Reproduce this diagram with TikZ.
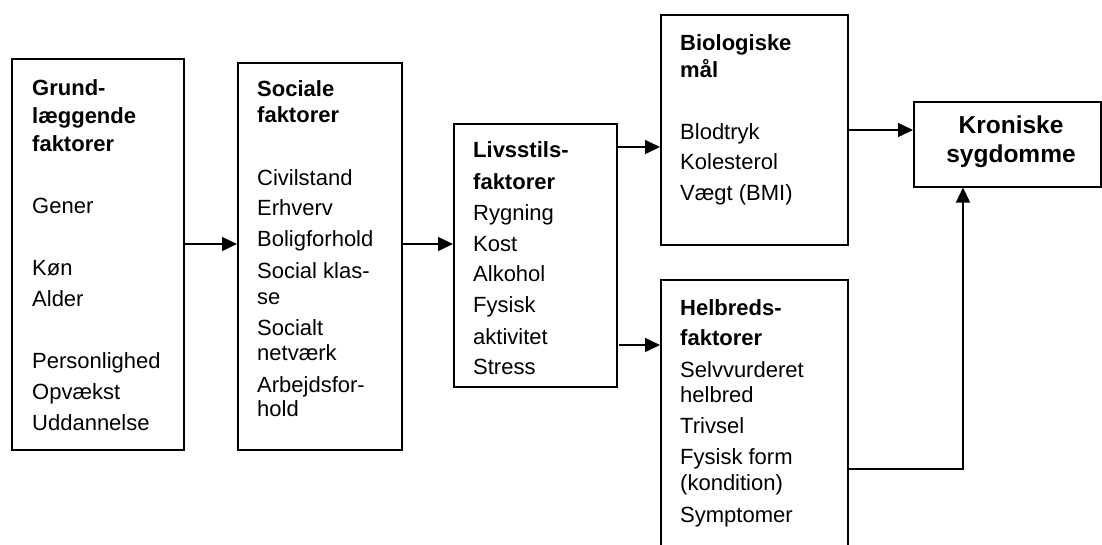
\documentclass[tikz,border=0pt]{standalone}
\usepackage{fontspec}
\setmainfont{Liberation Sans}
\usetikzlibrary{arrows.meta}
\begin{document}
\begin{tikzpicture}[x=1pt,y=-1pt]
\tikzset{
  box/.style={draw, line width=1.5pt, anchor=north west, inner sep=0pt},
  txt/.style={anchor=base west, inner sep=0pt, font=\fontsize{22}{25}\selectfont},
  hd/.style={anchor=base west, inner sep=0pt, font=\fontsize{22}{25}\selectfont\bfseries},
  big/.style={anchor=base, inner sep=0pt, font=\fontsize{24.5}{29}\selectfont\bfseries},
  arr/.style={line width=1.5pt, -{Triangle[length=15pt,width=14pt]}},
}
\useasboundingbox (0,0) rectangle (1102,544);
% boxes
\node[box, minimum width=172pt, minimum height=391pt] (b1) at (11,58) {};
\node[box, minimum width=164pt, minimum height=387pt] (b2) at (237,62) {};
\node[box, minimum width=163pt, minimum height=263pt] (b3) at (453,123) {};
\node[box, minimum width=187pt, minimum height=230pt] (b4) at (660,14) {};
\node[box, minimum width=187pt, minimum height=272pt] (b5) at (660,279) {};
\node[box, minimum width=187pt, minimum height=85pt] (b6) at (913,101) {};
% box 1 text
\foreach \t/\y [count=\i] in {Grund-/95, læggende/123, faktorer/151}
  \node[hd] (t1h\i) at (32,\y) {\t};
\foreach \t/\y [count=\i] in {Gener/213, Køn/275, Alder/306, Personlighed/368, Opvækst/399, Uddannelse/430}
  \node[txt] (t1\i) at (32,\y) {\t};
% box 2 text
\foreach \t/\y [count=\i] in {Sociale/96, faktorer/122}
  \node[hd] (t2h\i) at (257,\y) {\t};
\foreach \t/\y [count=\i] in {Civilstand/185, Erhverv/215, Boligforhold/246, Social klas-/278, se/304, Socialt/335, netværk/360, Arbejdsfor-/392, hold/416}
  \node[txt] (t2\i) at (257,\y) {\t};
% box 3 text
\foreach \t/\y [count=\i] in {Livsstils-/157, faktorer/189}
  \node[hd] (t3h\i) at (473,\y) {\t};
\foreach \t/\y [count=\i] in {Rygning/220, Kost/251, Alkohol/281, Fysisk/312, aktivitet/344, Stress/374}
  \node[txt] (t3\i) at (473,\y) {\t};
% box 4 text
\foreach \t/\y [count=\i] in {Biologiske/50, mål/77}
  \node[hd] (t4h\i) at (680,\y) {\t};
\foreach \t/\y [count=\i] in {Blodtryk/139, Kolesterol/169, {Vægt (BMI)}/200}
  \node[txt] (t4\i) at (680,\y) {\t};
% box 5 text
\foreach \t/\y [count=\i] in {Helbreds-/315, faktorer/345}
  \node[hd] (t5h\i) at (680,\y) {\t};
\foreach \t/\y [count=\i] in {Selvvurderet/377, helbred/402, Trivsel/433, Fysisk form/464, {(kondition)}/490, Symptomer/522}
  \node[txt] (t5\i) at (680,\y) {\t};
% box 6 text
\node[big] (t61) at (1011,133) {Kroniske};
\node[big] (t62) at (1011,162) {sygdomme};
% connectors
\coordinate (h1) at (0,244);
\draw[arr] (b1.east |- h1) -- (b2.west |- h1);
\draw[arr] (b2.east |- h1) -- (b3.west |- h1);
\coordinate (h2) at (0,147);
\draw[arr] (b3.east |- h2) -- (b4.west |- h2);
\coordinate (s5) at (619,345);
\draw[arr] (s5) -- (b5.west |- s5);
\coordinate (h3) at (0,130);
\draw[arr] (b4.east |- h3) -- (b6.west |- h3);
\coordinate (c6) at (963,469);
\draw[arr] (b5.east |- c6) -- (c6) -- (b6.south -| c6);
\end{tikzpicture}
\end{document}
